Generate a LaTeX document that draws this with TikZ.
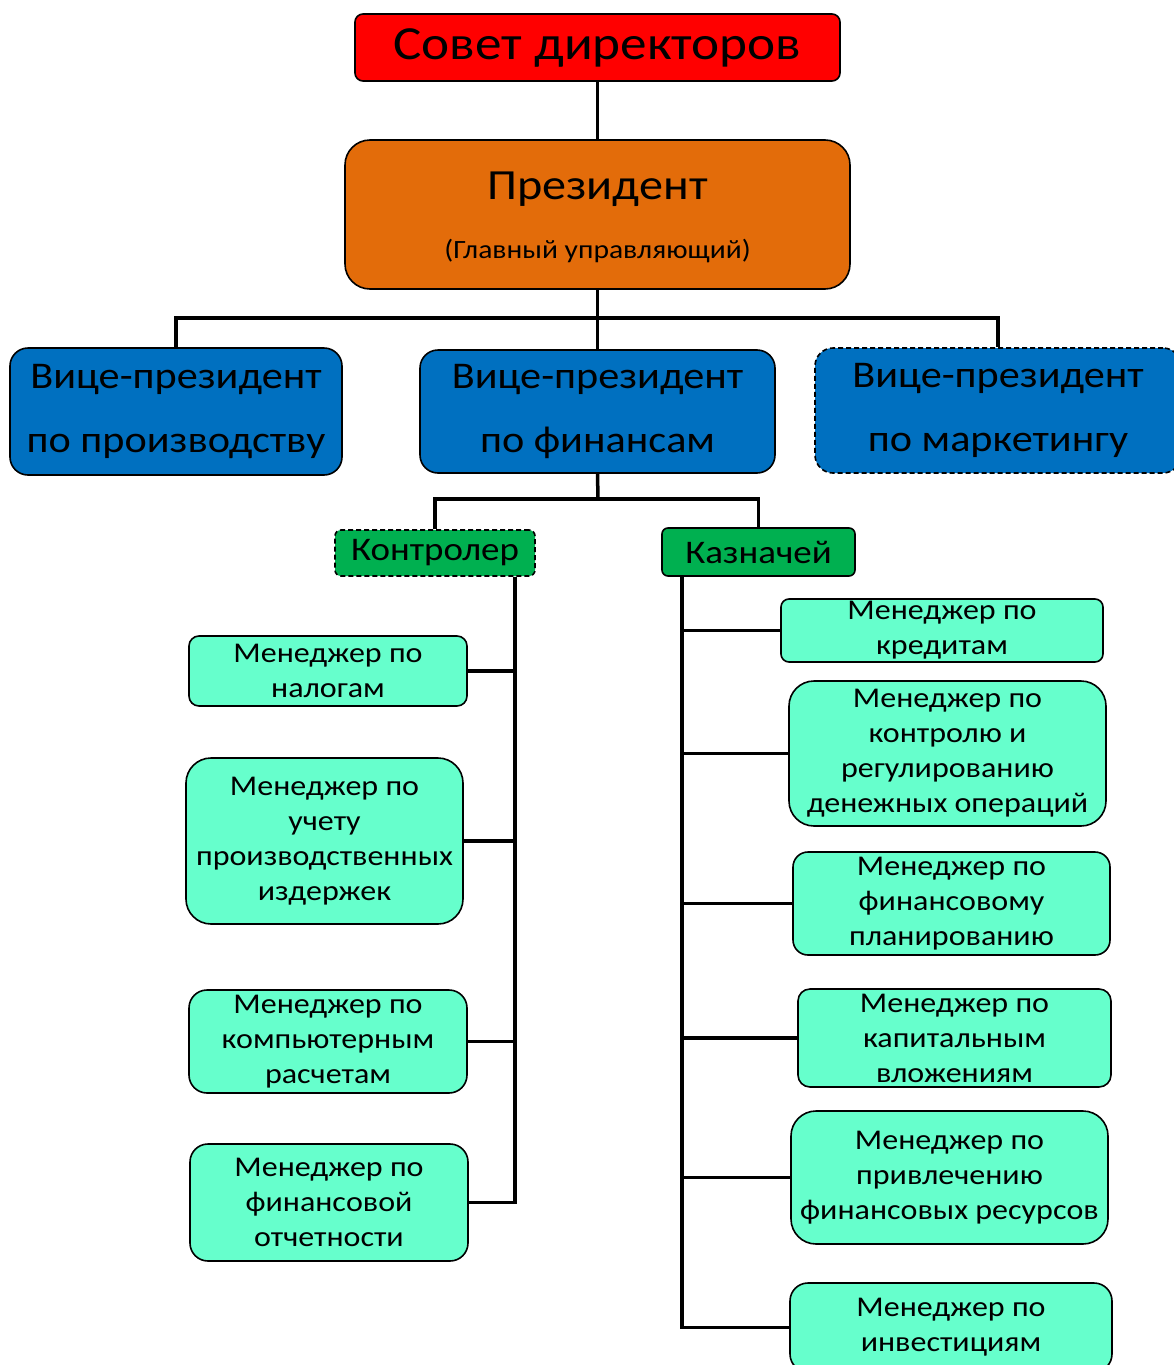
\documentclass[tikz,border=0pt]{standalone}
\usepackage{fontspec}
\setmainfont[FakeStretch=1.12]{Carlito}
\definecolor{boardred}{RGB}{255,0,0}
\definecolor{presorange}{RGB}{227,108,10}
\definecolor{vpblue}{RGB}{0,112,192}
\definecolor{midgreen}{RGB}{0,176,80}
\definecolor{mintc}{RGB}{102,255,204}
\begin{document}
\begin{tikzpicture}[x=1pt,y=-1pt,
  box/.style={draw=black, line width=1.6pt, align=center, inner sep=0pt, text=black},
  mint/.style={box, fill=mintc, font=\fontsize{28.6}{35}\selectfont},
  vpbox/.style={box, fill=vpblue, rounded corners=18pt, font=\fontsize{37.7}{64}\selectfont},
  sub/.style={box, fill=midgreen, rounded corners=6pt, font=\fontsize{33}{33}\selectfont},
  dashedge/.style={dash pattern=on 5pt off 3pt},
  link/.style={line width=3.5pt, black}
]
\useasboundingbox (0,0) rectangle (1173,1365);

% top levels
\node[box, fill=boardred, rounded corners=8pt, minimum width=485pt, minimum height=67pt,
      font=\fontsize{47.5}{47.5}\selectfont] (board) at (597.5,47.5) {Совет директоров};
\node[box, fill=presorange, rounded corners=25pt, minimum width=505pt, minimum height=149pt] (pres) at (597.5,214.5) {};
\node[font=\fontsize{43}{43}\selectfont, inner sep=0pt] (presA) at (597.5,189) {Президент};
\node[font=\fontsize{26.4}{26.4}\selectfont, inner sep=0pt] (presB) at (597.5,251) {(Главный управляющий)};

% vice-presidents
\node[vpbox, minimum width=332pt, minimum height=127pt] (vp1) at (176,411.5) {Вице-президент\\по производству};
\node[vpbox, minimum width=355pt, minimum height=123pt] (vp2) at (597.5,411.5) {Вице-президент\\по финансам};
\node[vpbox, dashedge, minimum width=366pt, minimum height=125pt] (vp3) at (998,410.5) {Вице-президент\\по маркетингу};

% controller and treasurer
\node[sub, dashedge, minimum width=200pt, minimum height=46pt] (ctrl) at (435,553) {Контролер};
\node[sub, minimum width=193pt, minimum height=48pt] (treas) at (758.5,552) {Казначей};

% controller's managers
\node[mint, rounded corners=10pt, minimum width=278pt, minimum height=70pt] (m1) at (328,671) {Менеджер по\\налогам};
\node[mint, rounded corners=25pt, minimum width=277pt, minimum height=166pt] (m2) at (324.5,841) {Менеджер по\\учету\\производственных\\издержек};
\node[mint, rounded corners=18pt, minimum width=278pt, minimum height=103pt] (m3) at (328,1041.5) {Менеджер по\\компьютерным\\расчетам};
\node[mint, rounded corners=18pt, minimum width=278pt, minimum height=117pt] (m4) at (329,1202.5) {Менеджер по\\финансовой\\отчетности};

% treasurer's managers
\node[mint, rounded corners=8pt, minimum width=322pt, minimum height=63pt] (r1) at (942,630.5) {Менеджер по\\кредитам};
\node[mint, rounded corners=25pt, minimum width=317pt, minimum height=145pt] (r2) at (947.5,753.5) {Менеджер по\\контролю и\\регулированию\\денежных операций};
\node[mint, rounded corners=15pt, minimum width=317pt, minimum height=103pt] (r3) at (951.5,903.5) {Менеджер по\\финансовому\\планированию};
\node[mint, rounded corners=12pt, minimum width=313pt, minimum height=98pt] (r4) at (954.5,1038) {Менеджер по\\капитальным\\вложениям};
\node[mint, rounded corners=25pt, minimum width=317pt, minimum height=133pt] (r5) at (949.5,1177.5) {Менеджер по\\привлечению\\финансовых ресурсов};
\node[mint, rounded corners=18pt, minimum width=322pt, minimum height=89pt] (r6) at (951,1327.5) {Менеджер по\\инвестициям};

% junctions and spines
\coordinate (j1) at (598,318);
\coordinate (j2) at (598,499);
\coordinate (spL) at (515,0);
\coordinate (spR) at (682,0);

\draw[link] (board.south) -- (pres.north);
\draw[link] (pres.south) -- (vp2.north);
\draw[link] (vp1.north) |- (j1) -| (vp3.north);
\draw[link] (vp2.south) -- (j2);
\draw[link] (ctrl.north) |- (j2) -| (treas.north);

\draw[link] (ctrl.south -| spL) |- (m4.east);
\foreach \m in {m1,m2,m3} \draw[link] (\m.east) -- (\m.east -| spL);

\draw[link] (treas.south -| spR) |- (r6.west);
\foreach \r in {r1,r2,r3,r4,r5} \draw[link] (\r.west) -- (\r.west -| spR);
\end{tikzpicture}
\end{document}
